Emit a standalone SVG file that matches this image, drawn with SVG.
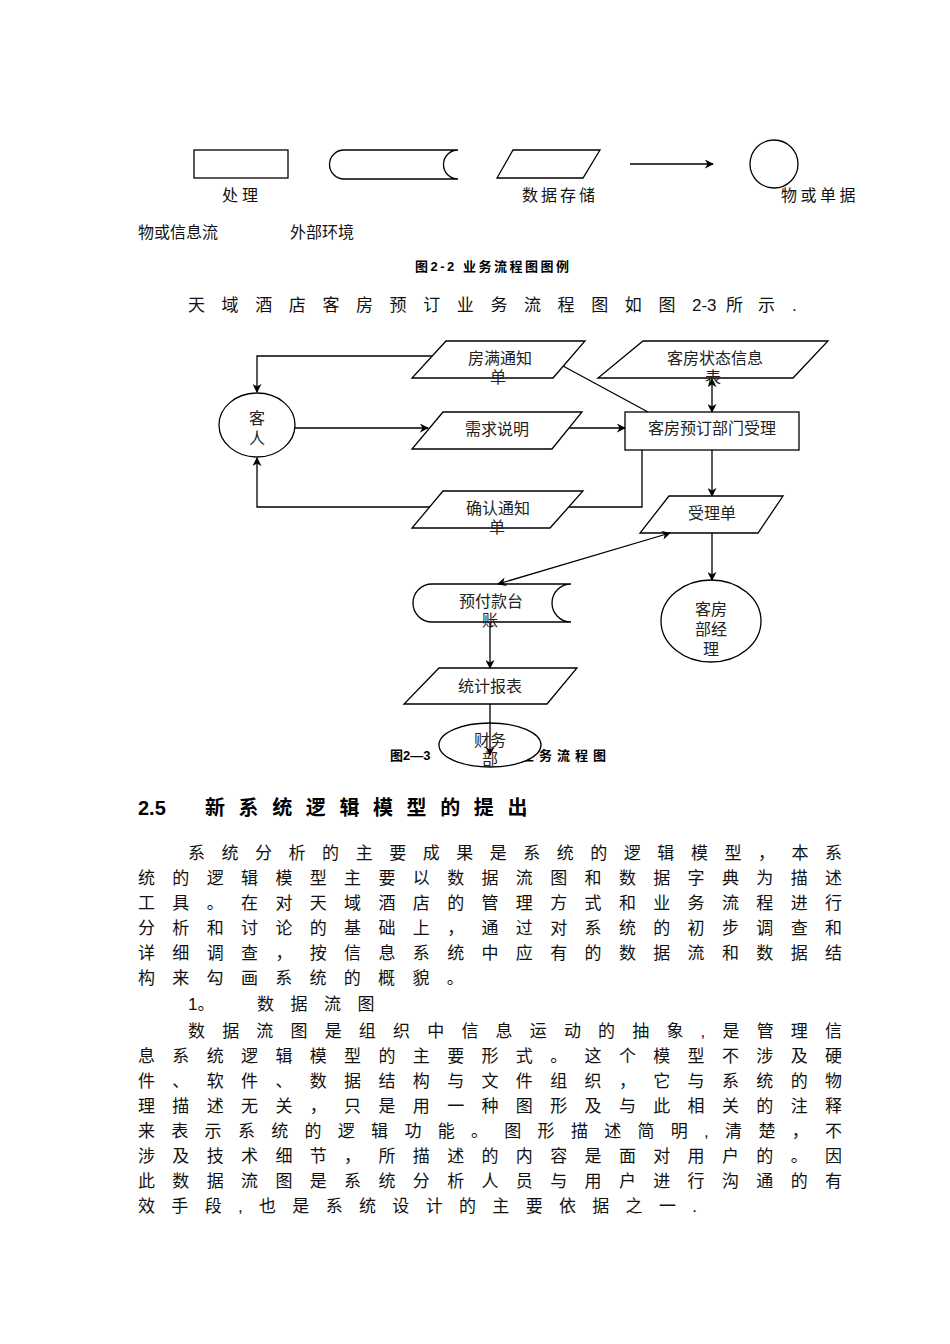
<svg xmlns="http://www.w3.org/2000/svg" width="950" height="1344" viewBox="0 0 950 1344">
<style>
.s{fill:#fff;stroke:#000;stroke-width:1.3}
.c{fill:none;stroke:#000;stroke-width:1.3}
.t{font-family:"Liberation Sans","Noto Sans CJK SC",sans-serif;font-size:16px;fill:#111}
.n{font-family:"Liberation Sans","Noto Sans CJK SC",sans-serif;font-size:16px;fill:#222;text-anchor:middle}
.p{font-family:"Liberation Sans","Noto Sans CJK SC",sans-serif;font-size:17px;fill:#111}
.b{font-family:"Liberation Sans","Noto Sans CJK SC",sans-serif;font-size:13px;font-weight:bold;fill:#000}
.h{font-family:"Liberation Sans","Noto Sans CJK SC",sans-serif;font-size:20px;font-weight:bold;fill:#000}
</style>
<defs>
<marker id="ar" viewBox="0 0 10 10" refX="9" refY="5" markerWidth="9" markerHeight="9" markerUnits="userSpaceOnUse" orient="auto-start-reverse">
<path d="M0,0 L10,5 L0,10 L3,5 Z" fill="#000"/>
</marker>
</defs>
<rect width="950" height="1344" fill="#fff"/>

<g id="legend">
<rect class="s" x="194" y="150" width="94" height="28"/>
<path class="s" d="M344,150 L458,150 A14.5,14.5 0 0 0 458,179 L344,179 A14.5,14.5 0 0 1 344,150 Z"/>
<polygon class="s" points="513,150 600,150 583,178 497,178"/>
<line class="c" x1="630" y1="164" x2="713" y2="164" marker-end="url(#ar)"/>
<circle class="s" cx="774" cy="164" r="24"/>
<text class="t" x="222" y="201" letter-spacing="4">处理</text>
<text class="t" x="522" y="201" letter-spacing="3">数据存储</text>
<text class="t" x="781" y="201" letter-spacing="3.5">物或单据</text>
<text class="t" x="138" y="238">物或信息流</text>
<text class="t" x="290" y="238">外部环境</text>
<text class="b" x="415" y="271" letter-spacing="2.5">图2-2 业务流程图图例</text>
</g>

<text class="p" x="188" y="311" letter-spacing="16.6">天域酒店客房预订业务流程图如图</text>
<text class="p" x="692" y="311">2-3</text>
<text class="p" x="726" y="311" letter-spacing="15">所示</text>
<text class="p" x="792" y="311">.</text>

<text class="b" x="390" y="760">图2—3</text>
<text class="b" x="521" y="760" letter-spacing="5">业务流程图</text>

<g id="n-fangman">
<polygon class="s" points="446,341 585,341 553,378 412,378"/>
<text class="n" x="500" y="364">房满通知</text>
<text class="n" x="498" y="383">单</text>
</g>
<g id="n-status">
<polygon class="s" points="643,341 828,341 793,378 598,378"/>
<text class="n" x="715" y="364">客房状态信息</text>
<text class="n" x="713" y="383">表</text>
</g>
<g id="n-guest">
<ellipse class="s" cx="257" cy="425" rx="38" ry="32"/>
<text class="n" x="257" y="424">客</text>
<text class="n" x="257" y="444">人</text>
</g>
<g id="n-demand">
<polygon class="s" points="443,412 582,412 552,449 412,449"/>
<text class="n" x="497" y="435">需求说明</text>
</g>
<g id="n-dept">
<rect class="s" x="625" y="412" width="174" height="38"/>
<text class="n" x="712" y="434">客房预订部门受理</text>
</g>
<g id="n-confirm">
<polygon class="s" points="443,491 583,491 550,528 412,528"/>
<text class="n" x="498" y="514">确认通知</text>
<text class="n" x="497" y="533">单</text>
</g>
<g id="n-order">
<polygon class="s" points="669,496 783,496 758,533 640,533"/>
<text class="n" x="712" y="519">受理单</text>
</g>
<g id="n-manager">
<ellipse class="s" cx="711" cy="621" rx="50" ry="41"/>
<text class="n" x="711" y="615">客房</text>
<text class="n" x="711" y="635">部经</text>
<text class="n" x="711" y="655">理</text>
</g>
<g id="n-prepay">
<path class="s" d="M432,584 L571,584 A19,19 0 0 0 571,622 L432,622 A19,19 0 0 1 432,584 Z"/>
<text class="n" x="491" y="607">预付款台</text>
<text class="n" x="490" y="626">账</text>
</g>
<g id="n-report">
<polygon class="s" points="439,668 577,668 547,704 404,704"/>
<text class="n" x="490" y="692">统计报表</text>
</g>
<g id="n-finance">
<ellipse class="s" cx="490" cy="745" rx="51" ry="22"/>
<text class="n" x="490" y="746">财务</text>
<text class="n" x="490" y="765">部</text>
</g>

<g id="connectors">
<polyline class="c" points="432,356 257,356 257,392" marker-end="url(#ar)"/>
<line class="c" x1="295" y1="428" x2="428" y2="428" marker-end="url(#ar)"/>
<line class="c" x1="569" y1="428" x2="625" y2="428" marker-end="url(#ar)"/>
<line class="c" x1="563" y1="366" x2="648" y2="412"/>
<line class="c" x1="712" y1="379" x2="712" y2="412" marker-start="url(#ar)" marker-end="url(#ar)"/>
<line class="c" x1="712" y1="450" x2="712" y2="496" marker-end="url(#ar)"/>
<polyline class="c" points="642,450 642,507 569,507"/>
<polyline class="c" points="430,507 257,507 257,458" marker-end="url(#ar)"/>
<line class="c" x1="712" y1="533" x2="712" y2="580" marker-end="url(#ar)"/>
<line class="c" x1="670" y1="533" x2="498" y2="584" marker-start="url(#ar)" marker-end="url(#ar)"/>
<line class="c" x1="490" y1="622" x2="490" y2="668" marker-end="url(#ar)"/>
<line class="c" x1="490" y1="704" x2="490" y2="755" marker-end="url(#ar)"/>
</g>

<g id="body">
<text class="h" x="138" y="815">2.5</text>
<text class="h" x="205" y="815" letter-spacing="13.6">新系统逻辑模型的提出</text>
<text class="p" x="188" y="859" textLength="654" lengthAdjust="spacing">系统分析的主要成果是系统的逻辑模型，本系</text>
<text class="p" x="138" y="884" textLength="704" lengthAdjust="spacing">统的逻辑模型主要以数据流图和数据字典为描述</text>
<text class="p" x="138" y="909" textLength="704" lengthAdjust="spacing">工具。在对天域酒店的管理方式和业务流程进行</text>
<text class="p" x="138" y="934" textLength="704" lengthAdjust="spacing">分析和讨论的基础上，通过对系统的初步调查和</text>
<text class="p" x="138" y="959" textLength="704" lengthAdjust="spacing">详细调查，按信息系统中应有的数据流和数据结</text>
<text class="p" x="138" y="984" letter-spacing="17.3">构来勾画系统的概貌。</text>
<text class="p" x="188" y="1010">1。</text>
<text class="p" x="257" y="1010" letter-spacing="16.5">数据流图</text>
<text class="p" x="188" y="1037" textLength="654" lengthAdjust="spacing">数据流图是组织中信息运动的抽象,是管理信</text>
<text class="p" x="138" y="1062" textLength="704" lengthAdjust="spacing">息系统逻辑模型的主要形式。这个模型不涉及硬</text>
<text class="p" x="138" y="1087" textLength="704" lengthAdjust="spacing">件、软件、数据结构与文件组织，它与系统的物</text>
<text class="p" x="138" y="1112" textLength="704" lengthAdjust="spacing">理描述无关，只是用一种图形及与此相关的注释</text>
<text class="p" x="138" y="1137" textLength="704" lengthAdjust="spacing">来表示系统的逻辑功能。图形描述简明,清楚，不</text>
<text class="p" x="138" y="1162" textLength="704" lengthAdjust="spacing">涉及技术细节，所描述的内容是面对用户的。因</text>
<text class="p" x="138" y="1187" textLength="704" lengthAdjust="spacing">此数据流图是系统分析人员与用户进行沟通的有</text>
<text class="p" x="138" y="1212" textLength="559" lengthAdjust="spacing">效手段,也是系统设计的主要依据之一.</text>
</g>
</svg>
